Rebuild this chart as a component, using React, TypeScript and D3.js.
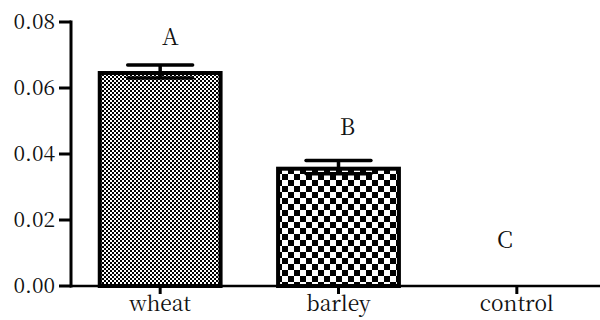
import * as d3 from 'd3';

const categories = ['wheat', 'barley', 'control'];
const means = [0.065, 0.036, 0];
const errors = [0.002, 0.002, 0];
const letters = ['A', 'B', 'C'];
const letterValues = [0.073, 0.0458, 0.0115];
const yTicks = [0, 0.02, 0.04, 0.06, 0.08];

const W = 600;
const H = 320;
const serif = { fontFamily: "'Noto Serif CJK SC', 'Liberation Serif', serif" };

export default function App() {
  const x = d3.scaleBand<string>().domain(categories).range([71, 606]).paddingInner(0.3).paddingOuter(0.15);
  const y = d3.scaleLinear().domain([0, 0.08]).range([286, 22]);
  const bw = x.bandwidth();
  const letterDx = [10, 9, -12];
  const fills = ['url(#fineCheck)', 'url(#coarseCheck)', 'none'];

  return (
    <svg width={W} height={H} style={{ position: 'absolute', left: 0, top: 0, background: '#fff' }}>
      <defs>
        <pattern id="fineCheck" width={4} height={4} patternUnits="userSpaceOnUse">
          <rect width={4} height={4} fill="#fff" />
          <rect width={2} height={2} fill="#000" />
          <rect x={2} y={2} width={2} height={2} fill="#000" />
        </pattern>
        <pattern id="coarseCheck" width={12} height={12} patternUnits="userSpaceOnUse">
          <rect width={12} height={12} fill="#fff" />
          <rect width={6} height={6} fill="#000" />
          <rect x={6} y={6} width={6} height={6} fill="#000" />
        </pattern>
      </defs>

      {/* bars */}
      {categories.map((c, i) => means[i] > 0 && (
        <rect key={c} x={x(c)! + 2} y={y(means[i]) + 1.5} width={bw - 4} height={y(0) - y(means[i]) - 1.5}
          fill={fills[i]} stroke="#000" strokeWidth={4} />
      ))}

      {/* error bars */}
      {categories.map((c, i) => {
        if (errors[i] === 0) return null;
        const cx = x(c)! + bw / 2;
        const half = bw * 0.26;
        return (
          <g key={c} stroke="#000" strokeWidth={3.5}>
            <line x1={cx} x2={cx} y1={y(means[i] + errors[i])} y2={y(means[i] - errors[i])} />
            <line x1={cx - half} x2={cx + half} y1={y(means[i] + errors[i])} y2={y(means[i] + errors[i])} strokeLinecap="round" />
            <line x1={cx - half} x2={cx + half} y1={y(means[i] - errors[i])} y2={y(means[i] - errors[i])} strokeLinecap="round" />
          </g>
        );
      })}

      {/* y axis */}
      <line x1={71} x2={71} y1={y(0.08) - 1.5} y2={y(0) + 1.5} stroke="#000" strokeWidth={3} />
      {yTicks.map(t => (
        <g key={t}>
          <line x1={59} x2={71} y1={y(t)} y2={y(t)} stroke="#000" strokeWidth={3} />
          <text x={55} y={y(t)} dy="0.35em" textAnchor="end" fontSize={21} fill="#111" style={serif}>
            {t.toFixed(2)}
          </text>
        </g>
      ))}

      {/* x axis */}
      <line x1={70} x2={600} y1={y(0)} y2={y(0)} stroke="#000" strokeWidth={2.5} />
      {categories.map(c => {
        const cx = x(c)! + bw / 2;
        return (
          <g key={c}>
            <line x1={cx} x2={cx} y1={y(0)} y2={y(0) + 8} stroke="#000" strokeWidth={3} />
            <text x={cx} y={311} textAnchor="middle" fontSize={21} fill="#111" style={serif}>{c}</text>
          </g>
        );
      })}

      {/* significance letters */}
      {categories.map((c, i) => (
        <text key={c} x={x(c)! + bw / 2 + letterDx[i]} y={y(letterValues[i])} textAnchor="middle"
          fontSize={23} fill="#111" style={serif}>{letters[i]}</text>
      ))}
    </svg>
  );
}
